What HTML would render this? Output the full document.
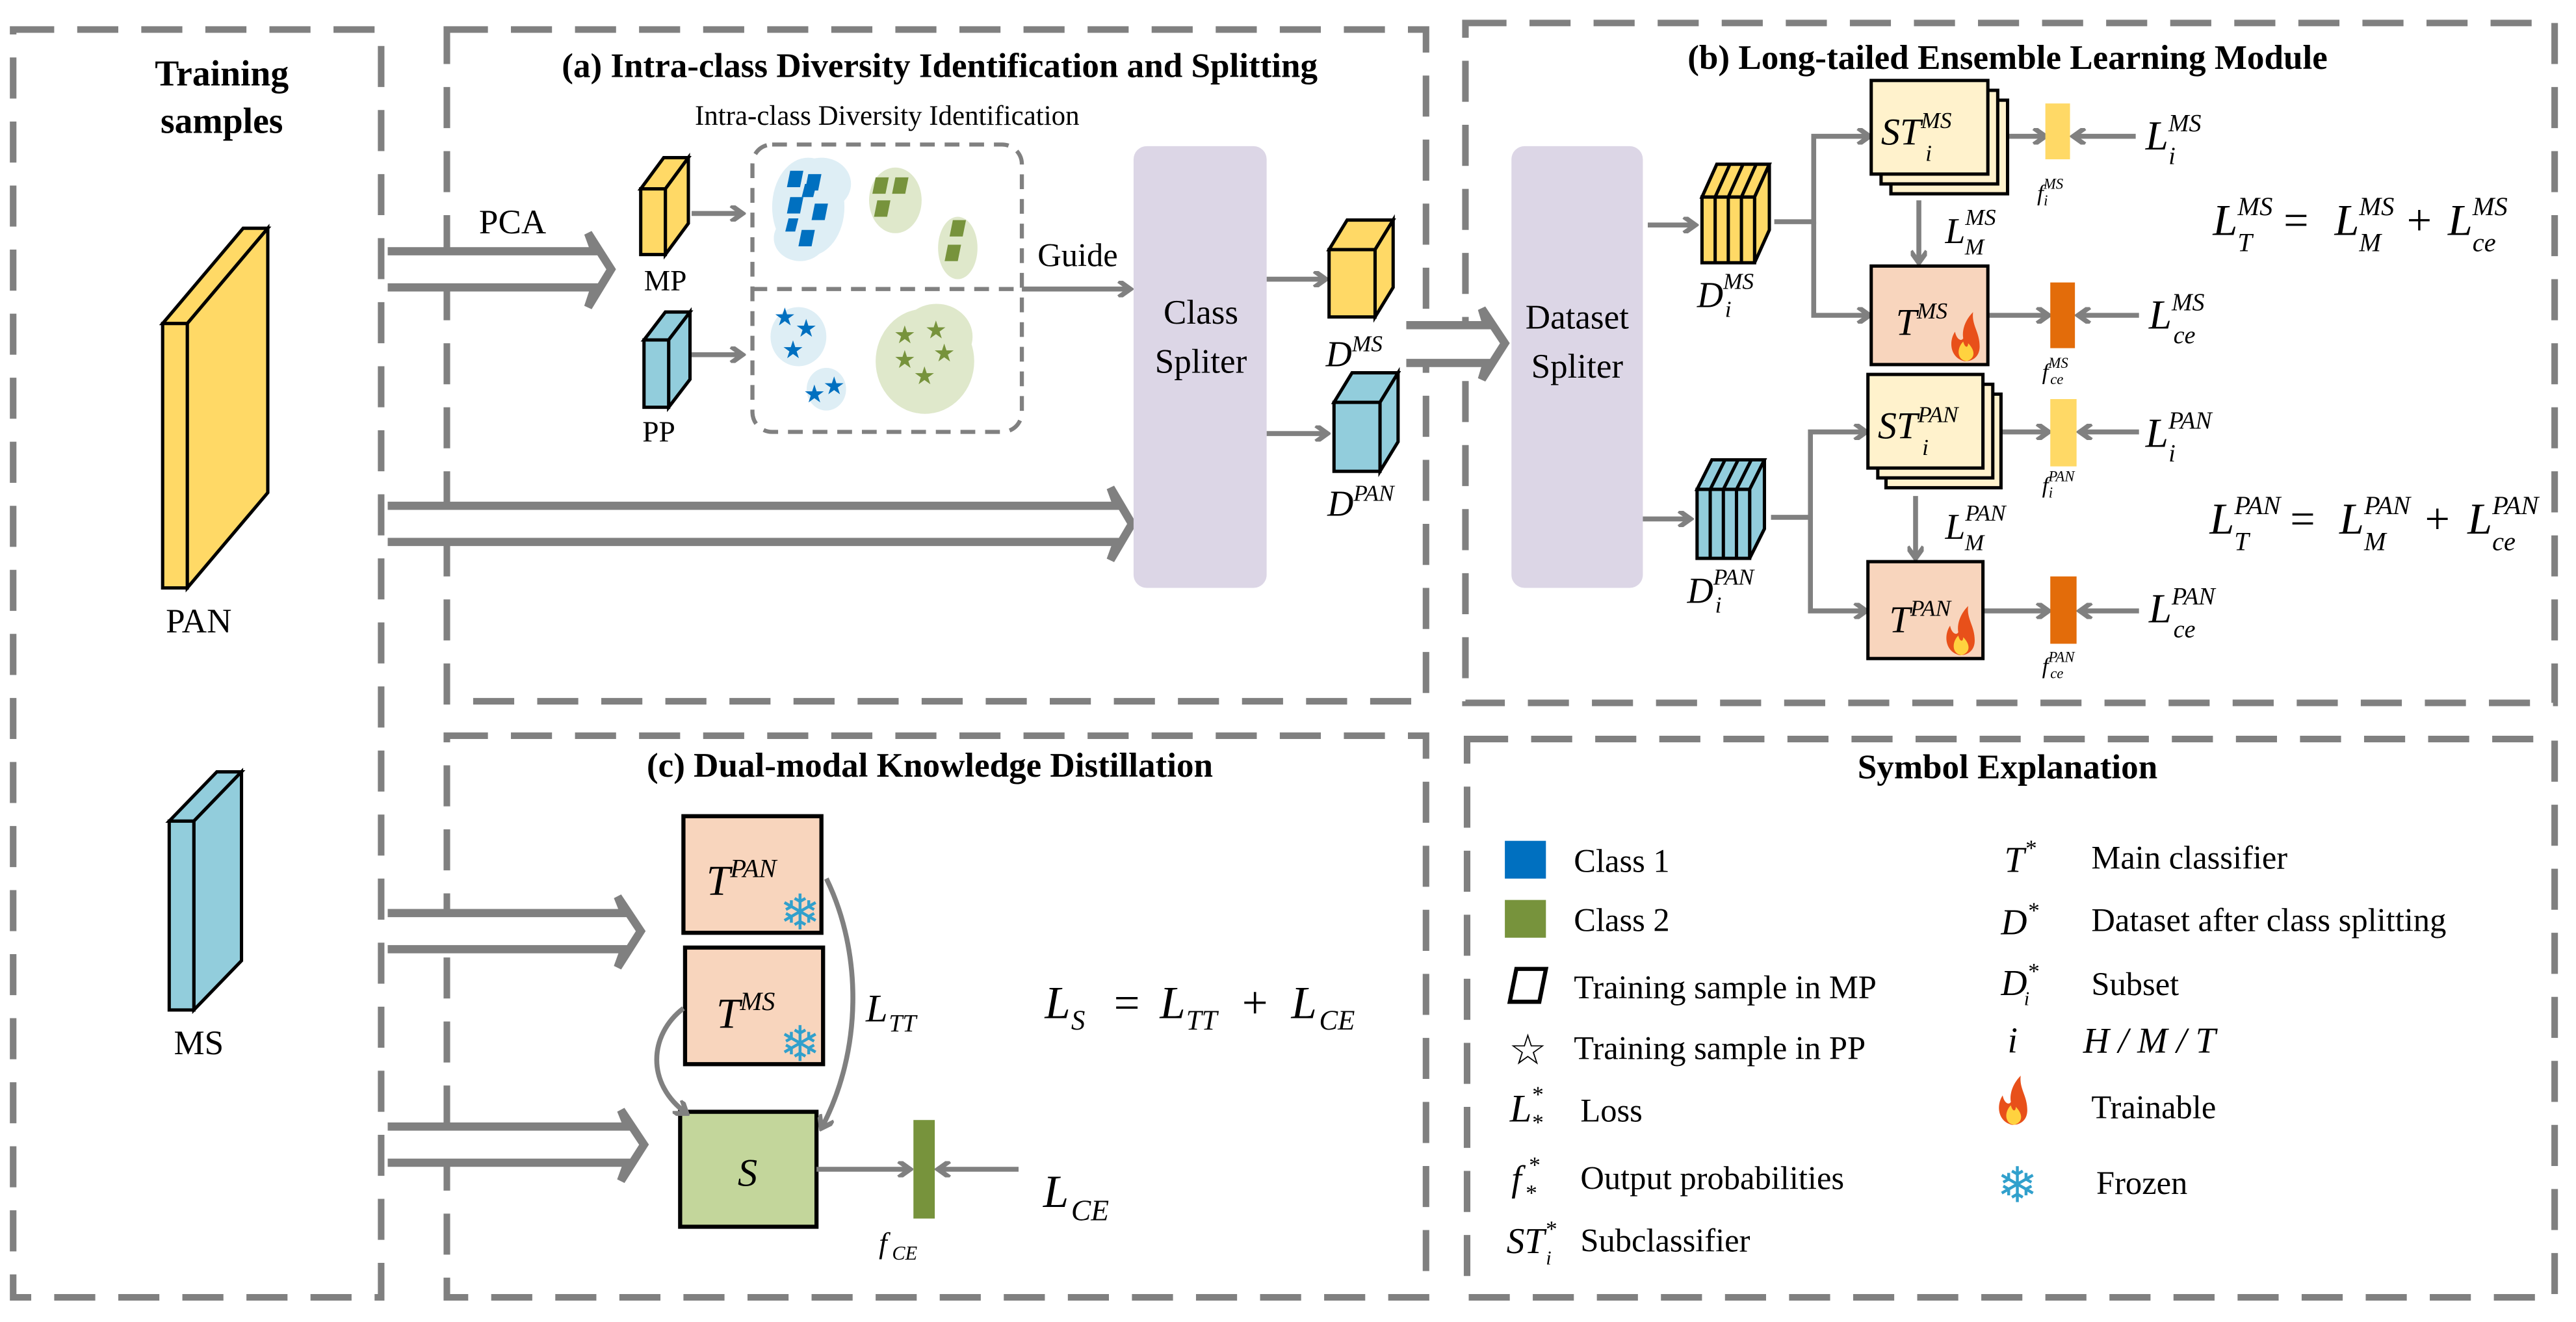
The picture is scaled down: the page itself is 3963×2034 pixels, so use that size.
<!DOCTYPE html>
<html><head><meta charset="utf-8"><style>
html,body{margin:0;padding:0;background:#fff;}
svg{display:block;}
</style></head><body>
<svg width="3963" height="2034" viewBox="0 0 1568 805" preserveAspectRatio="none" xmlns="http://www.w3.org/2000/svg" font-family="'Liberation Serif','DejaVu Serif',serif" fill="#000">
<defs>
<marker id="ah" markerWidth="10" markerHeight="10" refX="8" refY="5" orient="auto" markerUnits="userSpaceOnUse">
<path d="M1,0 L8,5 L1,10" fill="none" stroke="#808080" stroke-width="3"/>
</marker>
<g id="flame">
<path d="M0,0 C-9,-2 -10,-12 -6,-18 C-5,-13 -2,-12 -1,-14 C-2,-20 1,-26 5,-30 C4,-22 9,-18 9,-9 C9,-3 5,0 0,0 Z" fill="#e8501a"/>
<path d="M1,0 C-5,-1 -5,-8 -1,-12 C0,-8 2,-8 2,-11 C6,-7 7,-2 1,0 Z" fill="#ffd23f"/>
</g>
</defs>

<!-- panels -->
<g fill="none" stroke="#808080" stroke-width="4" stroke-dasharray="25,14">
<rect x="8" y="18" width="224" height="772"/>
<rect x="272" y="18" width="596" height="409"/>
<rect x="892" y="14" width="663" height="414"/>
<rect x="272" y="448" width="596" height="342"/>
<rect x="893" y="450" width="662" height="340"/>
</g>

<!-- left panel -->
<text font-weight="bold" x="135" y="52" font-size="22" text-anchor="middle">Training</text>
<text font-weight="bold" x="135" y="81" font-size="22" text-anchor="middle">samples</text>
<polygon points="99,197 114,197 163,139 148,139" fill="#ffd966" stroke="#000" stroke-width="2"/>
<polygon points="114,197 163,139 163,300 114,358" fill="#ffd966" stroke="#000" stroke-width="2"/>
<rect x="99" y="197" width="15" height="161" fill="#ffd966" stroke="#000" stroke-width="2"/>
<text x="121" y="385" font-size="21" text-anchor="middle">PAN</text>
<polygon points="103,500 118,500 147,470 132,470" fill="#92cddc" stroke="#000" stroke-width="2"/>
<polygon points="118,500 147,470 147,585 118,615" fill="#92cddc" stroke="#000" stroke-width="2"/>
<rect x="103" y="500" width="15" height="115" fill="#92cddc" stroke="#000" stroke-width="2"/>
<text x="121" y="642" font-size="21" text-anchor="middle">MS</text>

<!-- panel a -->
<text font-weight="bold" x="572" y="47" font-size="21" text-anchor="middle">(a) Intra-class Diversity Identification and Splitting</text>
<text x="540" y="76" font-size="17" text-anchor="middle">Intra-class Diversity Identification</text>
<g fill="#fff" stroke="#808080" stroke-width="5" stroke-linejoin="miter">
<path d="M236,153 L362,153 L358,142 L372,164 L358,187 L362,175 L236,175"/>
<path d="M236,308 L680,308 L676,297 L689,319 L676,341 L680,330 L236,330"/>
<path d="M856,198 L905,198 L902,188 L916,209 L902,231 L905,221 L856,221"/>
<path d="M236,556 L380,556 L376,546 L390,567 L376,589 L380,578 L236,578"/>
<path d="M236,686 L382,686 L378,676 L392,697 L378,719 L382,708 L236,708"/>
</g>
<text x="312" y="142" font-size="21" text-anchor="middle">PCA</text>
<polygon points="390,115 405,115 419,96 404,96" fill="#ffd966" stroke="#000" stroke-width="2"/>
<polygon points="405,115 419,96 419,136 405,155" fill="#ffd966" stroke="#000" stroke-width="2"/>
<rect x="390" y="115" width="15" height="40" fill="#ffd966" stroke="#000" stroke-width="2"/>
<text x="405" y="177" font-size="18" text-anchor="middle">MP</text>
<polygon points="392,207 407,207 420,190 405,190" fill="#92cddc" stroke="#000" stroke-width="2"/>
<polygon points="407,207 420,190 420,231 407,248" fill="#92cddc" stroke="#000" stroke-width="2"/>
<rect x="392" y="207" width="15" height="41" fill="#92cddc" stroke="#000" stroke-width="2"/>
<text x="401" y="269" font-size="18" text-anchor="middle">PP</text>
<g stroke="#808080" stroke-width="3" fill="none" marker-end="url(#ah)">
<line x1="421" y1="130" x2="452" y2="130"/>
<line x1="421" y1="216" x2="452" y2="216"/>
<line x1="622" y1="176" x2="688" y2="176"/>
<line x1="771" y1="170" x2="807" y2="170"/>
<line x1="771" y1="264" x2="808" y2="264"/>
</g>
<rect x="458" y="88" width="164" height="175" rx="12" fill="none" stroke="#808080" stroke-width="2.5" stroke-dasharray="9,6"/>
<line x1="458" y1="176" x2="622" y2="176" stroke="#808080" stroke-width="2.5" stroke-dasharray="9,6"/>
<!-- clusters -->
<g fill="#deeef5">
<ellipse cx="492" cy="126" rx="22" ry="30"/><ellipse cx="500" cy="112" rx="18" ry="16"/><ellipse cx="487" cy="145" rx="16" ry="14"/>
<ellipse cx="486" cy="205" rx="17" ry="18"/><ellipse cx="503" cy="237" rx="12" ry="13"/>
</g>
<g fill="#dfe8cb">
<ellipse cx="545" cy="122" rx="16" ry="20"/><ellipse cx="583" cy="151" rx="12" ry="19"/>
<ellipse cx="563" cy="220" rx="30" ry="32"/><ellipse cx="570" cy="205" rx="22" ry="20"/>
</g>
<g fill="#0070c0">
<polygon points="481,104 489,104 487,114 479,114"/><polygon points="492,106 500,106 498,116 490,116"/>
<polygon points="481,120 489,120 487,130 479,130"/><polygon points="496,124 504,124 502,134 494,134"/>
<polygon points="488,140 496,140 494,150 486,150"/><polygon points="480,133 486,133 484,141 478,141"/>
<polygon points="490,112 497,112 495,120 488,120"/>
</g>
<g fill="#77933c">
<polygon points="533,108 541,108 539,118 531,118"/><polygon points="545,108 553,108 551,118 543,118"/>
<polygon points="534,122 542,122 540,132 532,132"/><polygon points="580,134 588,134 586,144 578,144"/>
<polygon points="577,149 585,149 583,159 575,159"/>
</g>
<g font-size="15" font-family="DejaVu Sans,sans-serif" fill="#0070c0">
<text x="471" y="198">★</text><text x="484" y="205">★</text><text x="476" y="218">★</text>
<text x="489" y="245">★</text><text x="501" y="240">★</text>
</g>
<g font-size="15" font-family="DejaVu Sans,sans-serif" fill="#77933c">
<text x="544" y="209">★</text><text x="563" y="206">★</text><text x="544" y="224">★</text>
<text x="568" y="220">★</text><text x="556" y="234">★</text>
</g>
<text x="656" y="162" font-size="20" text-anchor="middle">Guide</text>
<rect x="690" y="89" width="81" height="269" rx="8" fill="#dcd6e6"/>
<text x="731" y="197" font-size="21" text-anchor="middle">Class</text>
<text x="731" y="227" font-size="21" text-anchor="middle">Spliter</text>
<polygon points="809,152 837,152 848,134 820,134" fill="#ffd966" stroke="#000" stroke-width="2"/>
<polygon points="837,152 848,134 848,175 837,193" fill="#ffd966" stroke="#000" stroke-width="2"/>
<rect x="809" y="152" width="28" height="41" fill="#ffd966" stroke="#000" stroke-width="2"/>
<text font-style="italic" x="807" y="223" font-size="22">D<tspan dy="-9" font-size="14">MS</tspan></text>
<polygon points="812,245 840,245 851,227 823,227" fill="#92cddc" stroke="#000" stroke-width="2"/>
<polygon points="840,245 851,227 851,269 840,287" fill="#92cddc" stroke="#000" stroke-width="2"/>
<rect x="812" y="245" width="28" height="42" fill="#92cddc" stroke="#000" stroke-width="2"/>
<text font-style="italic" x="808" y="314" font-size="22">D<tspan dy="-9" font-size="14">PAN</tspan></text>

<!-- panel b -->
<text font-weight="bold" x="1222" y="42" font-size="21" text-anchor="middle">(b) Long-tailed Ensemble Learning Module</text>
<rect x="920" y="89" width="80" height="269" rx="8" fill="#dcd6e6"/>
<text x="960" y="200" font-size="21" text-anchor="middle">Dataset</text>
<text x="960" y="230" font-size="21" text-anchor="middle">Spliter</text>
<g stroke="#000" stroke-width="2">
<polygon points="1036,120 1068,120 1077,100 1045,100" fill="#ffd966"/>
<polygon points="1068,120 1077,100 1077,140 1068,160" fill="#ffd966"/>
<rect x="1036" y="120" width="32" height="40" fill="#ffd966"/>
<line x1="1044" y1="120" x2="1044" y2="160"/><line x1="1052" y1="120" x2="1052" y2="160"/><line x1="1060" y1="120" x2="1060" y2="160"/>
<line x1="1044" y1="120" x2="1053" y2="100"/><line x1="1052" y1="120" x2="1061" y2="100"/><line x1="1060" y1="120" x2="1069" y2="100"/>
<polygon points="1033,298 1065,298 1074,280 1042,280" fill="#92cddc"/>
<polygon points="1065,298 1074,280 1074,322 1065,340" fill="#92cddc"/>
<rect x="1033" y="298" width="32" height="42" fill="#92cddc"/>
<line x1="1041" y1="298" x2="1041" y2="340"/><line x1="1049" y1="298" x2="1049" y2="340"/><line x1="1057" y1="298" x2="1057" y2="340"/>
<line x1="1041" y1="298" x2="1050" y2="280"/><line x1="1049" y1="298" x2="1058" y2="280"/><line x1="1057" y1="298" x2="1066" y2="280"/>
</g>
<text font-style="italic" x="1033" y="187" font-size="22">D<tspan dy="-11" font-size="14">MS</tspan><tspan x="1050" dy="17" font-size="14">i</tspan></text>
<text font-style="italic" x="1027" y="367" font-size="22">D<tspan dy="-11" font-size="14">PAN</tspan><tspan x="1044" dy="17" font-size="14">i</tspan></text>
<g stroke="#808080" stroke-width="3" fill="none">
<line x1="1003" y1="137" x2="1032" y2="137" marker-end="url(#ah)"/>
<line x1="1000" y1="316" x2="1029" y2="316" marker-end="url(#ah)"/>
<polyline points="1080,135 1104,135 1104,83 1138,83" marker-end="url(#ah)"/>
<polyline points="1104,135 1104,192 1138,192" marker-end="url(#ah)"/>
<polyline points="1078,315 1102,315 1102,263 1136,263" marker-end="url(#ah)"/>
<polyline points="1102,315 1102,372 1136,372" marker-end="url(#ah)"/>
<line x1="1168" y1="122" x2="1168" y2="160" marker-end="url(#ah)"/>
<line x1="1166" y1="302" x2="1166" y2="340" marker-end="url(#ah)"/>
<line x1="1221" y1="83" x2="1245" y2="83" marker-end="url(#ah)"/>
<line x1="1300" y1="83" x2="1262" y2="83" marker-end="url(#ah)"/>
<line x1="1210" y1="192" x2="1247" y2="192" marker-end="url(#ah)"/>
<line x1="1302" y1="192" x2="1265" y2="192" marker-end="url(#ah)"/>
<line x1="1218" y1="263" x2="1247" y2="263" marker-end="url(#ah)"/>
<line x1="1302" y1="263" x2="1266" y2="263" marker-end="url(#ah)"/>
<line x1="1207" y1="372" x2="1247" y2="372" marker-end="url(#ah)"/>
<line x1="1302" y1="372" x2="1266" y2="372" marker-end="url(#ah)"/>
</g>
<g stroke="#000" stroke-width="2" fill="#fff2cc">
<rect x="1151" y="61" width="71" height="57"/><rect x="1145" y="55" width="71" height="57"/><rect x="1139" y="49" width="71" height="57"/>
<rect x="1148" y="240" width="70" height="57"/><rect x="1143" y="234" width="70" height="57"/><rect x="1137" y="228" width="70" height="57"/>
</g>
<rect x="1139" y="162" width="71" height="60" fill="#f8d5bd" stroke="#000" stroke-width="2"/>
<rect x="1137" y="342" width="70" height="59" fill="#f8d5bd" stroke="#000" stroke-width="2"/>
<use href="#flame" x="1196" y="220"/>
<use href="#flame" x="1193" y="399"/>
<text font-style="italic" x="1145" y="88" font-size="23">ST<tspan dy="-10" font-size="14">MS</tspan><tspan x="1172" dy="20" font-size="14">i</tspan></text>
<text font-style="italic" x="1143" y="267" font-size="23">ST<tspan dy="-10" font-size="14">PAN</tspan><tspan x="1170" dy="20" font-size="14">i</tspan></text>
<text font-style="italic" x="1154" y="204" font-size="23">T<tspan dy="-10" font-size="14">MS</tspan></text>
<text font-style="italic" x="1150" y="385" font-size="23">T<tspan dy="-10" font-size="14">PAN</tspan></text>
<rect x="1245" y="63" width="15" height="34" fill="#ffd966"/>
<rect x="1248" y="172" width="15" height="40" fill="#e36c0a"/>
<rect x="1248" y="243" width="16" height="41" fill="#ffd966"/>
<rect x="1248" y="351" width="16" height="41" fill="#e36c0a"/>
<text font-style="italic" x="1240" y="122" font-size="14">f<tspan dy="-7" font-size="9">MS</tspan><tspan x="1244" dy="10" font-size="9">i</tspan></text>
<text font-style="italic" x="1243" y="231" font-size="14">f<tspan dy="-7" font-size="9">MS</tspan><tspan x="1248" dy="10" font-size="9">ce</tspan></text>
<text font-style="italic" x="1243" y="300" font-size="14">f<tspan dy="-7" font-size="9">PAN</tspan><tspan x="1247" dy="10" font-size="9">i</tspan></text>
<text font-style="italic" x="1243" y="410" font-size="14">f<tspan dy="-7" font-size="9">PAN</tspan><tspan x="1248" dy="10" font-size="9">ce</tspan></text>
<text font-style="italic" x="1306" y="91" font-size="25">L<tspan dy="-11" font-size="15">MS</tspan><tspan x="1320" dy="20" font-size="15">i</tspan></text>
<text font-style="italic" x="1184" y="148" font-size="22">L<tspan dy="-11" font-size="14">MS</tspan><tspan x="1196" dy="18" font-size="14">M</tspan></text>
<text font-style="italic" x="1308" y="200" font-size="25">L<tspan dy="-11" font-size="15">MS</tspan><tspan x="1323" dy="20" font-size="15">ce</tspan></text>
<text font-style="italic" x="1306" y="272" font-size="25">L<tspan dy="-11" font-size="15">PAN</tspan><tspan x="1320" dy="20" font-size="15">i</tspan></text>
<text font-style="italic" x="1184" y="328" font-size="22">L<tspan dy="-11" font-size="14">PAN</tspan><tspan x="1196" dy="18" font-size="14">M</tspan></text>
<text font-style="italic" x="1308" y="379" font-size="25">L<tspan dy="-11" font-size="15">PAN</tspan><tspan x="1323" dy="20" font-size="15">ce</tspan></text>
<text font-style="italic" x="1347" y="143" font-size="27">L<tspan dy="-12" font-size="16">MS</tspan><tspan x="1362" dy="22" font-size="16">T</tspan><tspan x="1390" dy="-10" font-style="normal">=</tspan><tspan x="1421">L</tspan><tspan dy="-12" font-size="16">MS</tspan><tspan x="1436" dy="22" font-size="16">M</tspan><tspan x="1465" dy="-10" font-style="normal">+</tspan><tspan x="1490">L</tspan><tspan dy="-12" font-size="16">MS</tspan><tspan x="1505" dy="22" font-size="16">ce</tspan></text>
<text font-style="italic" x="1345" y="325" font-size="27">L<tspan dy="-12" font-size="16">PAN</tspan><tspan x="1360" dy="22" font-size="16">T</tspan><tspan x="1394" dy="-10" font-style="normal">=</tspan><tspan x="1424">L</tspan><tspan dy="-12" font-size="16">PAN</tspan><tspan x="1439" dy="22" font-size="16">M</tspan><tspan x="1476" dy="-10" font-style="normal">+</tspan><tspan x="1502">L</tspan><tspan dy="-12" font-size="16">PAN</tspan><tspan x="1517" dy="22" font-size="16">ce</tspan></text>

<!-- panel c -->
<text font-weight="bold" x="566" y="473" font-size="21" text-anchor="middle">(c) Dual-modal Knowledge Distillation</text>
<rect x="416" y="497" width="84" height="71" fill="#f8d5bd" stroke="#000" stroke-width="2.5"/>
<rect x="417" y="577" width="84" height="71" fill="#f8d5bd" stroke="#000" stroke-width="2.5"/>
<rect x="414" y="677" width="83" height="70" fill="#c3d69b" stroke="#000" stroke-width="2.5"/>
<text font-style="italic" x="430" y="545" font-size="26">T<tspan dy="-11" font-size="16">PAN</tspan></text>
<text font-style="italic" x="436" y="626" font-size="26">T<tspan dy="-11" font-size="16">MS</tspan></text>
<text x="487" y="566" font-size="30" fill="#31a0cc" text-anchor="middle" font-family="DejaVu Sans,sans-serif">❄</text>
<text x="487" y="646" font-size="30" fill="#31a0cc" text-anchor="middle" font-family="DejaVu Sans,sans-serif">❄</text>
<text font-style="italic" x="455" y="722" font-size="24" text-anchor="middle">S</text>
<g stroke="#808080" stroke-width="3" fill="none">
<path d="M503,535 C525,580 525,640 500,687" marker-end="url(#ah)"/>
<path d="M416,614 C395,630 393,660 418,678" marker-end="url(#ah)"/>
<line x1="497" y1="712" x2="554" y2="712" marker-end="url(#ah)"/>
<line x1="620" y1="712" x2="571" y2="712" marker-end="url(#ah)"/>
</g>
<rect x="556" y="682" width="13" height="60" fill="#77933c"/>
<text font-style="italic" x="527" y="622" font-size="24">L<tspan x="541" dy="6" font-size="15">TT</tspan></text>
<text font-style="italic" x="635" y="735" font-size="28">L<tspan x="652" dy="8" font-size="18">CE</tspan></text>
<text font-style="italic" x="535" y="763" font-size="18">f<tspan x="543" dy="4" font-size="12">CE</tspan></text>
<text font-style="italic" x="636" y="620" font-size="28">L<tspan x="652" dy="7" font-size="17">S</tspan><tspan x="678" dy="-7" font-style="normal">=</tspan><tspan x="706">L</tspan><tspan x="722" dy="7" font-size="17">TT</tspan><tspan x="756" dy="-7" font-style="normal">+</tspan><tspan x="786">L</tspan><tspan x="803" dy="7" font-size="17">CE</tspan></text>

<!-- symbol panel -->
<text font-weight="bold" x="1222" y="474" font-size="21" text-anchor="middle">Symbol Explanation</text>
<rect x="916" y="512" width="25" height="23" fill="#0070c0"/>
<rect x="916" y="548" width="25" height="23" fill="#77933c"/>
<polygon points="919,610 937,610 941,590 923,590" fill="none" stroke="#000" stroke-width="2.5"/>
<text x="930" y="648" font-size="26" text-anchor="middle" font-family="DejaVu Sans,sans-serif">☆</text>
<g font-size="20">
<text x="958" y="531">Class 1</text>
<text x="958" y="567">Class 2</text>
<text x="958" y="608">Training sample in MP</text>
<text x="958" y="645">Training sample in PP</text>
<text x="962" y="683">Loss</text>
<text x="962" y="724">Output probabilities</text>
<text x="962" y="762">Subclassifier</text>
<text x="1273" y="529">Main classifier</text>
<text x="1273" y="567">Dataset after class splitting</text>
<text x="1273" y="606">Subset</text>
<text x="1273" y="681">Trainable</text>
<text x="1276" y="727">Frozen</text>
</g>
<text font-style="italic" x="919" y="683" font-size="24">L<tspan x="932" dy="-12" font-size="14">*</tspan><tspan x="932" dy="17" font-size="14">*</tspan></text>
<text font-style="italic" x="920" y="725" font-size="22">f<tspan x="930" dy="-11" font-size="14">*</tspan><tspan x="928" dy="17" font-size="14">*</tspan></text>
<text font-style="italic" x="917" y="763" font-size="22">ST<tspan dy="-10" font-size="14">*</tspan><tspan x="941" dy="17" font-size="12">i</tspan></text>
<text font-style="italic" x="1220" y="531" font-size="22">T<tspan dy="-10" font-size="14">*</tspan></text>
<text font-style="italic" x="1218" y="569" font-size="22">D<tspan dy="-10" font-size="14">*</tspan></text>
<text font-style="italic" x="1218" y="606" font-size="22">D<tspan dy="-10" font-size="14">*</tspan><tspan x="1232" dy="16" font-size="12">i</tspan></text>
<text font-style="italic" x="1222" y="641" font-size="22">i</text>
<text font-style="italic" x="1268" y="641" font-size="22">H / M / T</text>
<use href="#flame" x="1225" y="685"/>
<text x="1228" y="732" font-size="30" fill="#31a0cc" text-anchor="middle" font-family="DejaVu Sans,sans-serif">❄</text>
</svg>
</body></html>
